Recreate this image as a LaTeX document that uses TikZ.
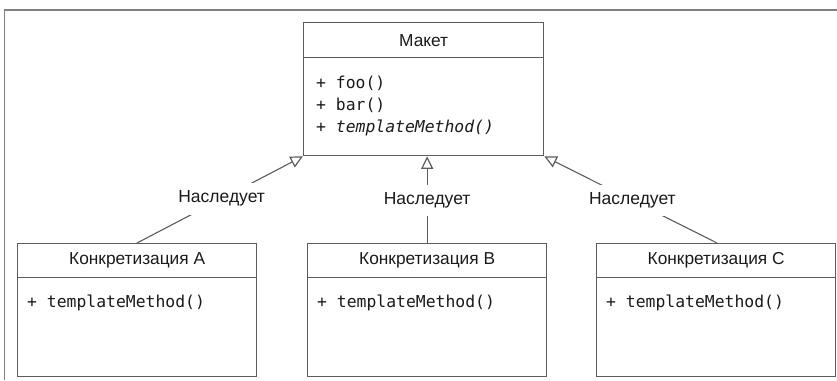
\documentclass[tikz,border=0pt]{standalone}
\usepackage{fontspec}
\setmainfont{Liberation Sans}
\setmonofont{DejaVu Sans Mono}
\usetikzlibrary{arrows.meta,calc}
\definecolor{linec}{HTML}{5C5C5C}
\definecolor{framec}{HTML}{808080}
\definecolor{txt}{HTML}{1A1A1A}
\tikzset{
  hdr/.style={draw=linec, line width=1.3pt, anchor=north west, inner sep=0pt,
    text=txt, font=\fontsize{17.3}{19}\selectfont},
  bodybox/.style={draw=linec, line width=1.3pt, anchor=north west, inner sep=0pt},
  meth/.style={anchor=base west, inner sep=0pt, text=txt, font=\fontsize{16.4}{18}\ttfamily},
  lbl/.style={fill=white, text=txt, font=\fontsize{17.5}{19}\selectfont, inner xsep=3pt, inner ysep=8pt},
  inherit/.style={draw=linec, line width=1.1pt, -{Triangle[open, length=12.5pt, width=12pt, line width=1.2pt]}},
}
\begin{document}
\begin{tikzpicture}[x=1pt, y=-1pt]
\useasboundingbox (0,0) rectangle (837,380);
% frame
\draw[framec, line width=1.7pt] (4.5,380) -- (4.5,10) -- (837,10);

% top class
\node[hdr, minimum width=240pt, minimum height=35pt] (mh) at (303,22) {Макет};
\node[bodybox, minimum width=240pt, minimum height=98pt] (mb) at (303,57) {};
\node[meth] (m1) at (316,88) {+ foo()};
\node[meth] (m2) at (316,110) {+ bar()};
\node[meth] (m3) at (316,132) {+ \textit{templateMethod()}};

% concrete A
\node[hdr, minimum width=239pt, minimum height=34pt] (ah) at (17,243) {Конкретизация А};
\node[bodybox, minimum width=239pt, minimum height=99pt] (ab) at (17,277) {};
\node[meth] (am) at (27,307.5) {+ templateMethod()};

% concrete B
\node[hdr, minimum width=239pt, minimum height=34pt] (bh) at (307,243) {Конкретизация В};
\node[bodybox, minimum width=239pt, minimum height=99pt] (bb) at (307,277) {};
\node[meth] (bm) at (317,307.5) {+ templateMethod()};

% concrete C
\node[hdr, minimum width=239pt, minimum height=34pt] (ch) at (596,243) {Конкретизация С};
\node[bodybox, minimum width=239pt, minimum height=99pt] (cb) at (596,277) {};
\node[meth] (cm) at (606,307.5) {+ templateMethod()};

% connection points
\coordinate (ta) at ([xshift=120pt]ah.north west);
\coordinate (tb) at (bh.north);
\coordinate (tc) at ([xshift=121pt]ch.north west);
\coordinate (pa) at (mb.south west);
\coordinate (pb) at (mb.south -| tb);
\coordinate (pc) at (mb.south east);

\draw[inherit] (ta) -- (pa);
\draw[inherit] (tb) -- (pb);
\draw[inherit] (tc) -- (pc);

\node[lbl] (la) at ($(ta)!0.51!(pa)$) {Наследует};
\node[lbl] (lb) at ($(tb)!0.49!(pb)$) {Наследует};
\node[lbl] (lc) at ($(tc)!0.49!(pc)$) {Наследует};
\end{tikzpicture}
\end{document}
